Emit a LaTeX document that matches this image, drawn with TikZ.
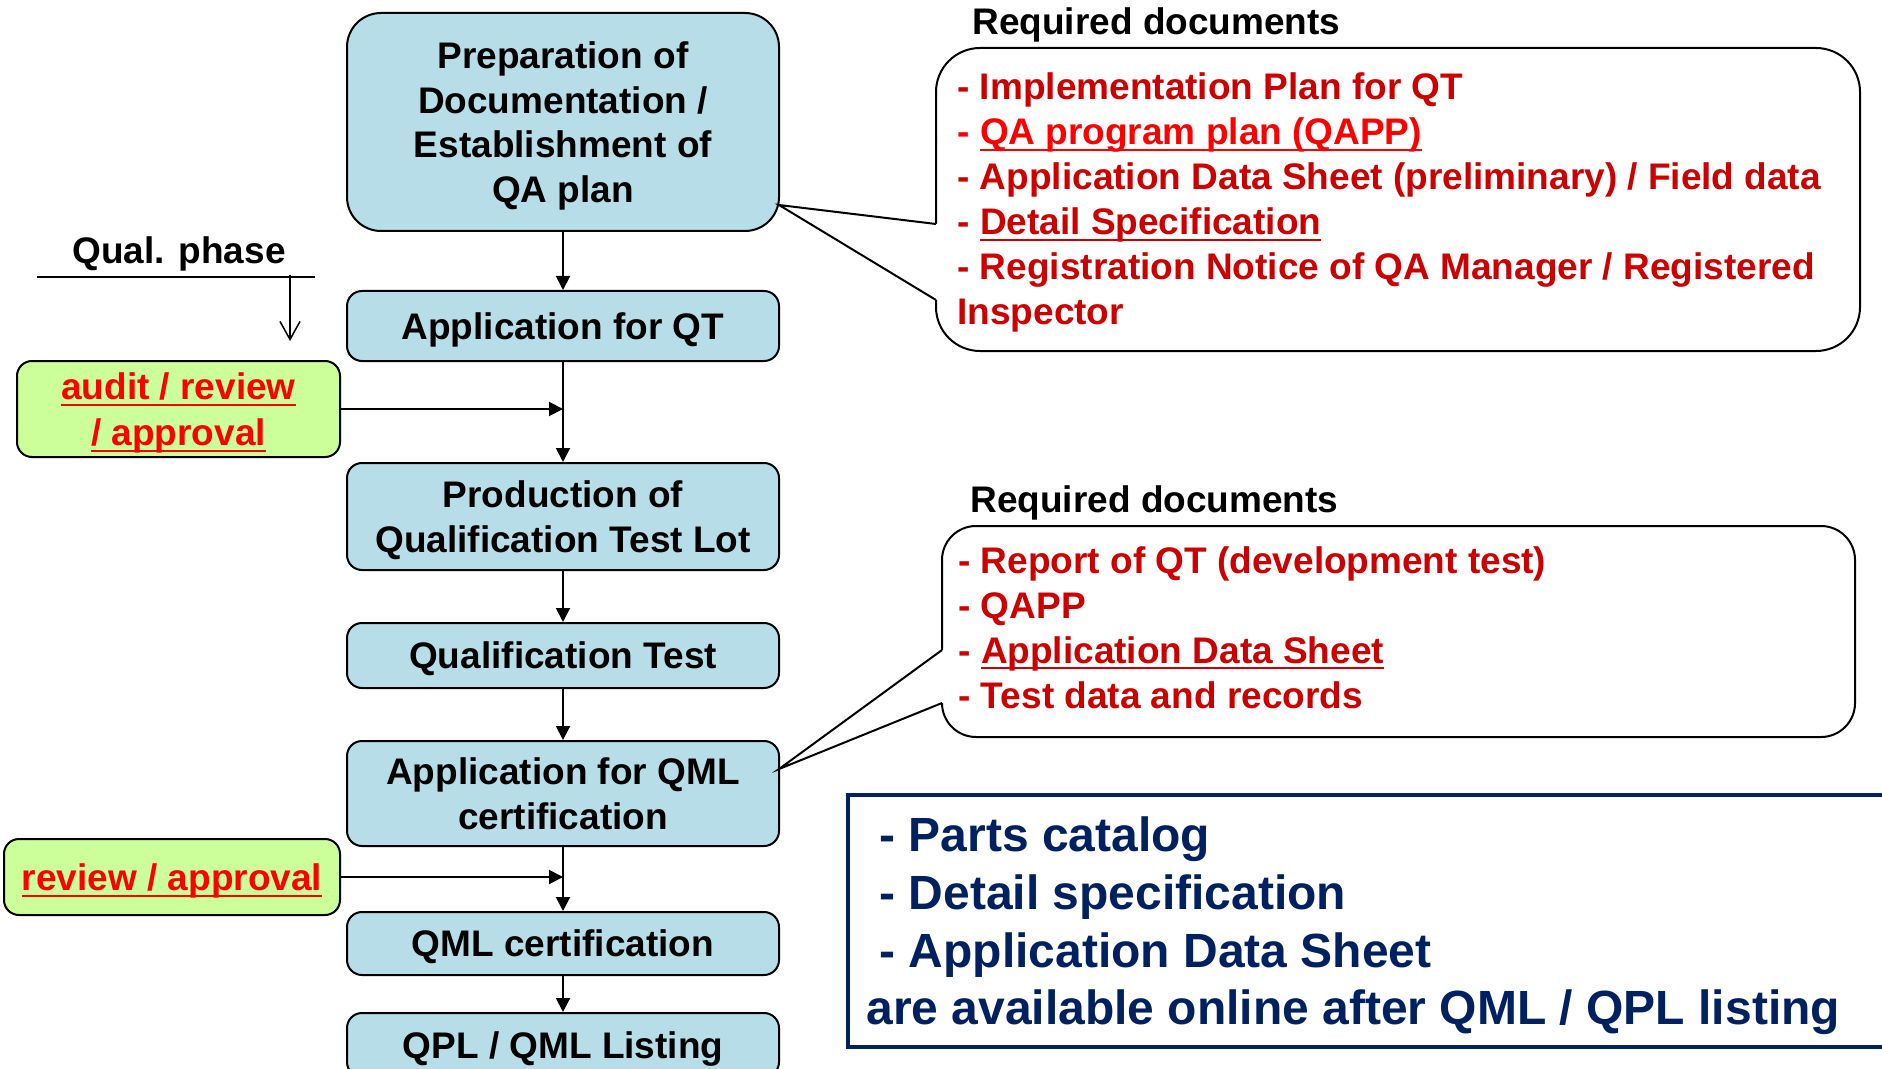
\documentclass[tikz,border=0pt]{standalone}
\usepackage{fontspec}
\setmainfont{Liberation Sans}
\usetikzlibrary{arrows.meta}

\definecolor{boxblue}{HTML}{B7DEE8}
\definecolor{gatefill}{HTML}{CCFF99}
\definecolor{brightred}{HTML}{FF0000}
\definecolor{darkred}{HTML}{CC0000}
\definecolor{navy}{HTML}{002060}

% underline drawn a fixed distance below the baseline
\newcommand\uln[1]{\setbox0\hbox{#1}\rlap{\rule[-3.2pt]{\wd0}{1pt}}\box0}

\newcommand\bodyfont{\fontsize{18.5pt}{22.4pt}\selectfont\bfseries}
\newcommand\notefont{\fontsize{24pt}{28.75pt}\selectfont\bfseries}

\begin{document}
\begin{tikzpicture}[x=0.5pt,y=-0.5pt,
  flow/.style={draw=black, line width=1pt, fill=boxblue, rounded corners=7.5pt,
    minimum width=216pt, align=center, inner sep=0pt, text depth=0pt, font=\bodyfont},
  gate/.style={draw=black, line width=1pt, fill=gatefill, rounded corners=7.5pt,
    align=center, inner sep=0pt, text depth=0pt, font=\bodyfont, text=brightred},
  bubble/.style={draw=black, line width=1pt, fill=white, inner sep=0pt},
  doc/.style={anchor=base west, inner sep=0pt, font=\bodyfont, text=darkred},
  head/.style={anchor=base west, inner sep=0pt, font=\bodyfont},
  note/.style={anchor=base west, inner sep=0pt, font=\notefont, text=navy},
  arr/.style={line width=1pt, -{Triangle[length=7pt,width=7pt]}},
  ptr/.style={line width=1pt, line join=miter}]

\useasboundingbox (0,0) rectangle (1882,1069);
\clip (0,0) rectangle (1882,1069);

% process steps
\node[flow, minimum height=109pt, rounded corners=17pt] (prep) at (563,122)
  {Preparation of\\Documentation /\\Establishment of\\QA plan};
\node[flow, minimum height=35pt] (appqt) at (563,326) {Application for QT};
\node[flow, minimum height=53.5pt] (lot) at (563,516.5)
  {Production of\\Qualification Test Lot};
\node[flow, minimum height=32.5pt] (qt) at (563,655.5) {Qualification Test};
\node[flow, minimum height=52.5pt] (appqml) at (563,793.5)
  {Application for QML\\certification};
\node[flow, minimum height=31.5pt] (cert) at (563,943.5) {QML certification};
\node[flow, minimum height=32pt] (list) at (563,1045) {QPL / QML Listing};

% reviews feeding into the flow
\node[gate, minimum width=161.5pt, minimum height=48pt] (audit) at (178.5,409)
  {\uln{audit / review}\\[0.5pt]\uln{/ approval}};
\node[gate, minimum width=168pt, minimum height=38pt] (review) at (172,877)
  {\uln{review / approval}};

% flow arrows
\draw[arr] (prep.south) -- (appqt.north);
\draw[arr] (appqt.south) -- (lot.north);
\draw[arr] (lot.south) -- (qt.north);
\draw[arr] (qt.south) -- (appqml.north);
\draw[arr] (appqml.south) -- (cert.north);
\draw[arr] (cert.south) -- (list.north);
\draw[arr] (audit.east) -- (audit.east -| appqt.south);
\draw[arr] (review.east) -- (review.east -| appqml.south);

% phase marker
\node[anchor=base, inner sep=0pt, font=\bodyfont] (qual) at (179,264) {Qual. phase};
\coordinate (ql) at (37,277);
\coordinate (qr) at (315,277);
\draw[line width=1pt] (ql) -- (qr);
\coordinate (qa) at (290,275);
\coordinate (qb) at (290,341);
\draw[line width=0.75pt, -{Straight Barb[length=9pt,width=10pt]}] (qa) -- (qb);

% first document callout
\node[head] (head1) at (972,35) {Required documents};
\node[bubble, rounded corners=22pt, minimum width=462pt, minimum height=151.5pt]
  (call1) at (1398,199.5) {};
\coordinate (t1) at (779,205);
\coordinate (a1) at (936,224);
\coordinate (b1) at (936,300);
\fill[white] (t1) -- (a1) -- ++(3,0) |- (b1) -- cycle;
\draw[ptr] (a1) -- (t1) -- (b1);
\node[doc] (d11) at (957,100) {- Implementation Plan for QT};
\node[doc, text=brightred] (d12) at (957,145) {- \uln{QA program plan (QAPP)}};
\node[doc] (d13) at (957,190) {- Application Data Sheet (preliminary) / Field data};
\node[doc] (d14) at (957,235) {- \uln{Detail Specification}};
\node[doc] (d15) at (957,280) {- Registration Notice of QA Manager / Registered};
\node[doc] (d16) at (957,325) {Inspector};

% second document callout
\node[head] (head2) at (970,512) {Required documents};
\node[bubble, rounded corners=17pt, minimum width=456.5pt, minimum height=105.5pt]
  (call2) at (1398.5,631.5) {};
\coordinate (t2) at (779,769);
\coordinate (a2) at (942,650);
\coordinate (b2) at (942,703);
\fill[white] (t2) -- (a2) -- ++(3,0) |- (b2) -- cycle;
\draw[ptr] (a2) -- (t2) -- (b2);
\node[doc] (d21) at (958,573) {- Report of QT (development test)};
\node[doc] (d22) at (958,618) {- QAPP};
\node[doc] (d23) at (958,663) {- \uln{Application Data Sheet}};
\node[doc] (d24) at (958,708) {- Test data and records};

% online availability note
\node[draw=navy, line width=2pt, minimum width=526pt, minimum height=125.75pt,
  inner sep=0pt] (online) at (1374,920.75) {};
\node[note] (n1) at (879,851) {- Parts catalog};
\node[note] (n2) at (879,909) {- Detail specification};
\node[note] (n3) at (879,967) {- Application Data Sheet};
\node[note] (n4) at (866,1024) {are available online after QML / QPL listing};

\end{tikzpicture}
\end{document}
